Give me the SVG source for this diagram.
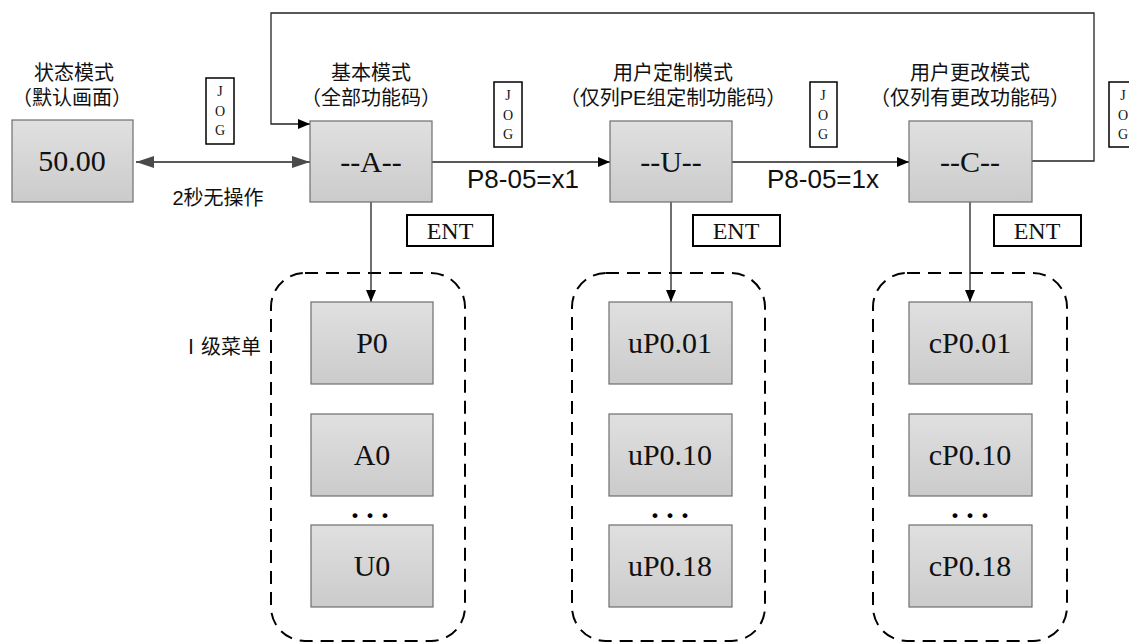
<svg xmlns="http://www.w3.org/2000/svg" width="1129" height="643" viewBox="0 0 1129 643">
<defs>
<linearGradient id="g" x1="0" y1="0" x2="0" y2="1">
<stop offset="0" stop-color="#e0e0e0"/>
<stop offset="1" stop-color="#cbcbcb"/>
</linearGradient>
<marker id="ah" viewBox="0 0 12 10" refX="12" refY="5" markerWidth="12" markerHeight="10" markerUnits="userSpaceOnUse" orient="auto">
<path d="M0,0 L12,5 L0,10 Z" fill="#000"/>
</marker>
<marker id="ahg" viewBox="0 0 18 12" refX="18" refY="6" markerWidth="18" markerHeight="12" markerUnits="userSpaceOnUse" orient="auto-start-reverse">
<path d="M0,0 L18,6 L0,12 Z" fill="#4a4a4a"/>
</marker>
</defs>
<style>
.box{fill:url(#g);stroke:#6e6e6e;stroke-width:1.2}
.bt{font-family:"Liberation Serif",serif;font-size:30px;text-anchor:middle;fill:#111}
.cn{font-family:"Liberation Sans","Noto Sans CJK SC",sans-serif;font-size:20px;text-anchor:middle;fill:#111}
.pl{font-family:"Liberation Sans",sans-serif;font-size:26px;text-anchor:middle;fill:#111}
.jog{fill:#fff;stroke:#000;stroke-width:1.5}
.jt{font-family:"Liberation Serif",serif;font-size:14px;text-anchor:middle;fill:#111}
.ent{fill:#fff;stroke:#000;stroke-width:2}
.et{font-family:"Liberation Serif",serif;font-size:24px;text-anchor:middle;fill:#111}
.dash{fill:none;stroke:#000;stroke-width:2;stroke-dasharray:13 8}
.ln{fill:none;stroke:#222;stroke-width:1.3}
.dots{font-family:"Liberation Serif",serif;font-size:30px;text-anchor:middle;fill:#000;font-weight:bold}
</style>

<g id="groups">
<rect id="grpA" class="dash" x="271" y="273" width="194" height="368" rx="34"/>
<rect id="grpU" class="dash" x="572" y="273" width="193" height="368" rx="34"/>
<rect id="grpC" class="dash" x="873" y="273" width="194" height="368" rx="34"/>
</g>

<g id="connectors">
<line class="ln" x1="136" y1="162" x2="310" y2="162" stroke="#4a4a4a" marker-start="url(#ahg)" marker-end="url(#ahg)"/>
<line class="ln" x1="432" y1="162" x2="610" y2="162" marker-end="url(#ah)"/>
<line class="ln" x1="732" y1="162" x2="909" y2="162" marker-end="url(#ah)"/>
<polyline class="ln" points="1032,161 1094,161 1094,13 271,13 271,124 310,124" marker-end="url(#ah)"/>
<line class="ln" x1="371" y1="202" x2="371" y2="302" marker-end="url(#ah)"/>
<line class="ln" x1="671" y1="202" x2="671" y2="302" marker-end="url(#ah)"/>
<line class="ln" x1="970" y1="202" x2="970" y2="302" marker-end="url(#ah)"/>
</g>

<g id="labels">
<text class="cn" x="74" y="80">状态模式</text>
<text class="cn" x="72" y="105">（默认画面）</text>
<text class="cn" x="371" y="80">基本模式</text>
<text class="cn" x="371" y="105">（全部功能码）</text>
<text class="cn" x="673" y="80">用户定制模式</text>
<text class="cn" x="673" y="105">（仅列PE组定制功能码）</text>
<text class="cn" x="970" y="80">用户更改模式</text>
<text class="cn" x="970" y="105">（仅列有更改功能码）</text>
<text class="cn" x="218" y="205">2秒无操作</text>
<text class="pl" x="523" y="188">P8-05=x1</text>
<text class="pl" x="823" y="188">P8-05=1x</text>
<text class="cn" x="221" y="354">Ⅰ级菜单</text>
</g>

<g id="jog1"><rect class="jog" x="206" y="78" width="28" height="66"/><text class="jt" x="220" y="96">J</text><text class="jt" x="220" y="116">O</text><text class="jt" x="220" y="135">G</text></g>
<g id="jog2"><rect class="jog" x="494" y="82" width="28" height="65"/><text class="jt" x="508" y="100">J</text><text class="jt" x="508" y="120">O</text><text class="jt" x="508" y="139">G</text></g>
<g id="jog3"><rect class="jog" x="810" y="82" width="27" height="65"/><text class="jt" x="823" y="100">J</text><text class="jt" x="823" y="120">O</text><text class="jt" x="823" y="139">G</text></g>
<g id="jog4"><rect class="jog" x="1109" y="82" width="28" height="65"/><text class="jt" x="1123" y="100">J</text><text class="jt" x="1123" y="120">O</text><text class="jt" x="1123" y="139">G</text></g>

<g id="ent1"><rect class="ent" x="407" y="215" width="86" height="31"/><text class="et" x="450" y="239">ENT</text></g>
<g id="ent2"><rect class="ent" x="693" y="215" width="87" height="31"/><text class="et" x="736" y="239">ENT</text></g>
<g id="ent3"><rect class="ent" x="994" y="215" width="87" height="31"/><text class="et" x="1037" y="239">ENT</text></g>

<g id="status"><rect class="box" x="12" y="120" width="121" height="82"/><text class="bt" x="72" y="171">50.00</text></g>
<g id="modeA"><rect class="box" x="310" y="121" width="122" height="81"/><text class="bt" x="371" y="172">--A--</text></g>
<g id="modeU"><rect class="box" x="610" y="121" width="122" height="81"/><text class="bt" x="671" y="172">--U--</text></g>
<g id="modeC"><rect class="box" x="909" y="121" width="123" height="81"/><text class="bt" x="970" y="172">--C--</text></g>

<g id="P0"><rect class="box" x="311" y="302" width="122" height="82"/><text class="bt" x="372" y="353">P0</text></g>
<g id="A0"><rect class="box" x="311" y="414" width="122" height="82"/><text class="bt" x="372" y="465">A0</text></g>
<g id="U0"><rect class="box" x="311" y="525" width="122" height="82"/><text class="bt" x="372" y="576">U0</text></g>
<text class="dots" x="370" y="518">. . .</text>

<g id="uP001"><rect class="box" x="609" y="302" width="123" height="82"/><text class="bt" x="670" y="353">uP0.01</text></g>
<g id="uP010"><rect class="box" x="609" y="414" width="123" height="82"/><text class="bt" x="670" y="465">uP0.10</text></g>
<g id="uP018"><rect class="box" x="609" y="525" width="123" height="82"/><text class="bt" x="670" y="576">uP0.18</text></g>
<text class="dots" x="670" y="518">. . .</text>

<g id="cP001"><rect class="box" x="909" y="302" width="123" height="82"/><text class="bt" x="970" y="353">cP0.01</text></g>
<g id="cP010"><rect class="box" x="909" y="414" width="123" height="82"/><text class="bt" x="970" y="465">cP0.10</text></g>
<g id="cP018"><rect class="box" x="909" y="525" width="123" height="82"/><text class="bt" x="970" y="576">cP0.18</text></g>
<text class="dots" x="970" y="518">. . .</text>
</svg>
